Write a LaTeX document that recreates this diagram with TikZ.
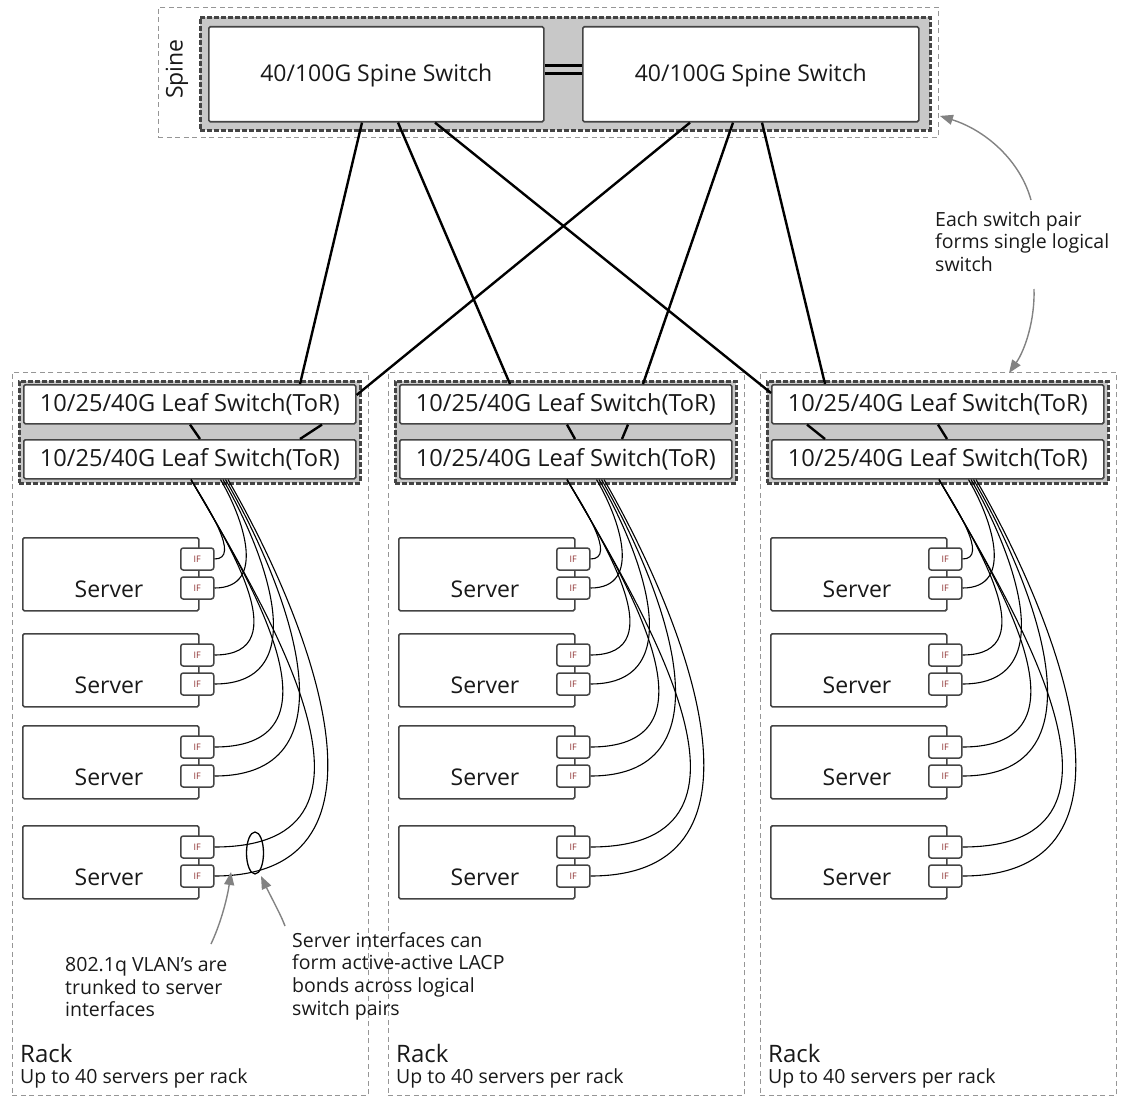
\documentclass[tikz,border=0pt]{standalone}
\usepackage{fontspec}
\setmainfont{Open Sans}
\usetikzlibrary{arrows.meta,calc,shapes.geometric}
\definecolor{bandgray}{RGB}{200,200,200}
\definecolor{edgecol}{RGB}{68,68,68}
\definecolor{dashgray}{RGB}{150,150,150}
\definecolor{ifred}{RGB}{140,45,45}
\definecolor{arrowgray}{RGB}{130,130,130}
\definecolor{txt}{RGB}{25,25,25}
\begin{document}
\begin{tikzpicture}[x=1pt,y=-1pt,
  font=\fontsize{23}{27}\selectfont, text=txt,
  outerdash/.style={draw=dashgray, line width=0.9pt, dash pattern=on 5pt off 3.5pt, inner sep=0pt, anchor=north west},
  band/.style={draw=edgecol, fill=bandgray, line width=2.6pt, dash pattern=on 5pt off 2pt, inner sep=0pt, anchor=north west},
  swbox/.style={draw=edgecol, fill=white, line width=1.6pt, rounded corners=1.5pt, inner sep=0pt, anchor=north west},
  leafbox/.style={swbox, minimum width=332pt, minimum height=39pt, font=\fontsize{23.6}{27}\selectfont},
  srvbox/.style={swbox, minimum width=176pt, minimum height=73pt},
  ifbox/.style={draw=edgecol, fill=white, line width=1.5pt, rounded corners=2.5pt, anchor=west, minimum width=33pt, minimum height=22pt, inner sep=0pt, font=\fontsize{9}{10}\selectfont, text=ifred},
  link/.style={draw=black, line width=2.4pt},
  cable/.style={draw=black, line width=1.1pt},
  note/.style={draw=arrowgray, line width=1.4pt, -{Triangle[length=13pt,width=10pt]}},
  notetext/.style={font=\fontsize{19.5}{22.7}\selectfont, align=left, inner sep=0pt, anchor=north west},
]
\useasboundingbox (0,0) rectangle (1124,1097);

% ---------- spine ----------
\node[outerdash, minimum width=780pt, minimum height=130pt] (spinegrp) at (158,7) {};
\node[band, minimum width=730pt, minimum height=113pt] (spineband) at (199,16) {};
\node[swbox, minimum width=335pt, minimum height=95pt, text depth=3pt] (s1) at (208,26) {40/100G Spine Switch};
\node[swbox, minimum width=336pt, minimum height=95pt, text depth=3pt] (s2) at (582,26) {40/100G Spine Switch};
\node[rotate=90] (spinelbl) at (177,69) {Spine};
\draw[link, line width=2.6pt] ($(s1.east)+(0,-9)$) -- ($(s2.west)+(0,-9)$);
\draw[link, line width=2.6pt] ($(s1.east)+(0,-1)$) -- ($(s2.west)+(0,-1)$);

% ---------- racks ----------
\foreach \rk/\ox in {1/0,2/376,3/748}{
  \node[outerdash, minimum width=356pt, minimum height=723pt] (rack\rk) at (\ox+12,372) {};
  \node[band, minimum width=341pt, minimum height=102pt] (lband\rk) at (\ox+18,380) {};
  \node[leafbox] (leaf\rk a) at (\ox+23,384) {10/25/40G Leaf Switch(ToR)};
  \node[leafbox] (leaf\rk b) at (\ox+23,439) {10/25/40G Leaf Switch(ToR)};
  \foreach \sv/\ty in {1/537,2/633,3/725,4/825}{
    \node[srvbox] (srv\rk\sv) at (\ox+22,\ty) {};
    \node[anchor=base] (srvt\rk\sv) at (\ox+109,\ty+60) {Server};
    \node[ifbox] (if\rk\sv a) at (\ox+180,\ty+22) {IF};
    \node[ifbox] (if\rk\sv b) at (\ox+180,\ty+51) {IF};
  }
  \foreach \sv/\ty in {1/537,2/633,3/725,4/825}{
    \pgfmathsetmacro\myEa{\ty+22}
    \pgfmathsetmacro\myEb{\ty+51}
    \pgfmathsetmacro\myDa{\myEa-478}
    \pgfmathsetmacro\myDb{\myEb-478}
    \pgfmathsetmacro\mySa{\ox+191}
    \pgfmathsetmacro\mySb{\ox+218+2.5*\sv}
    \pgfmathsetmacro\myOb{195+2.5*\sv}
    \draw[cable] ($(leaf\rk b.south west)+(168,0)$) .. controls (\mySa+0.2*\myDa,478+0.35*\myDa) and (\ox+193+0.6*\myDa,\myEa) .. (if\rk\sv a.east);
    \draw[cable] ($(leaf\rk b.south west)+(\myOb,0)$) .. controls (\mySb+0.2*\myDb,478+0.35*\myDb) and (\ox+213+0.5*\myDb,\myEb) .. (if\rk\sv b.east);
  }
  \node[anchor=base west, inner sep=0pt, font=\fontsize{24}{27}\selectfont] (racklbl\rk) at (\ox+20,1062) {Rack};
  \node[anchor=base west, inner sep=0pt, font=\fontsize{19.5}{22}\selectfont] (rackcap\rk) at (\ox+20,1083) {Up to 40 servers per rack};
}

% ---------- spine to leaf links ----------
\draw[link] ($(s1.south west)+(154,0)$) -- ($(leaf1a.north west)+(277,0)$);
\draw[link] ($(s1.south west)+(190,0)$) -- ($(leaf2a.north west)+(111,0)$);
\draw[link] ($(s1.south west)+(227,0)$) -- ($(leaf3a.north west)+(0,9)$);
\draw[link] ($(s2.south west)+(108,0)$) -- ($(leaf1a.north east)+(0,11)$);
\draw[link] ($(s2.south west)+(151,0)$) -- ($(leaf2a.north west)+(244,0)$);
\draw[link] ($(s2.south west)+(180,0)$) -- ($(leaf3a.north west)+(54,0)$);

% ---------- links visible between the leaf pair ----------
\foreach \rk/\pa/\pb/\pc/\pd in {1/167/177/299/277, 2/168/176/229/223, 3/36/54/167/176}{
  \draw[link] ($(leaf\rk a.south west)+(\pa,0)$) -- ($(leaf\rk b.north west)+(\pb,0)$);
  \draw[link] ($(leaf\rk a.south west)+(\pc,0)$) -- ($(leaf\rk b.north west)+(\pd,0)$);
}

% ---------- annotations ----------
\node[notetext] (pairnote) at (935,211) {Each switch pair\\forms single logical\\switch};
\coordinate (pn1) at (1031,200);
\coordinate (pn1t) at ($(spinegrp.south east)+(1,-22)$);
\draw[note] (pn1) .. controls (1020,160) and (985,130) .. (pn1t);
\coordinate (pn2) at (1034,289);
\coordinate (pn2t) at (1009,373);
\draw[note] (pn2) .. controls (1035,320) and (1025,350) .. (pn2t);

\node[draw=black, line width=1.3pt, ellipse, minimum width=17pt, minimum height=42pt, inner sep=0pt] (lacp) at (255,853) {};

\node[notetext] (vlannote) at (65,957) {802.1q VLAN’s are\\trunked to server\\interfaces};
\node[notetext] (lacpnote) at (292,932) {Server interfaces can\\form active-active LACP\\bonds across logical\\switch pairs};
\coordinate (va) at (211,944);
\coordinate (vat) at (231,872);
\draw[note] (va) .. controls (220,925) and (227,900) .. (vat);
\coordinate (la) at (285,926);
\coordinate (lat) at (261,876);
\draw[note] (la) .. controls (281,915) and (270,895) .. (lat);
\end{tikzpicture}
\end{document}
